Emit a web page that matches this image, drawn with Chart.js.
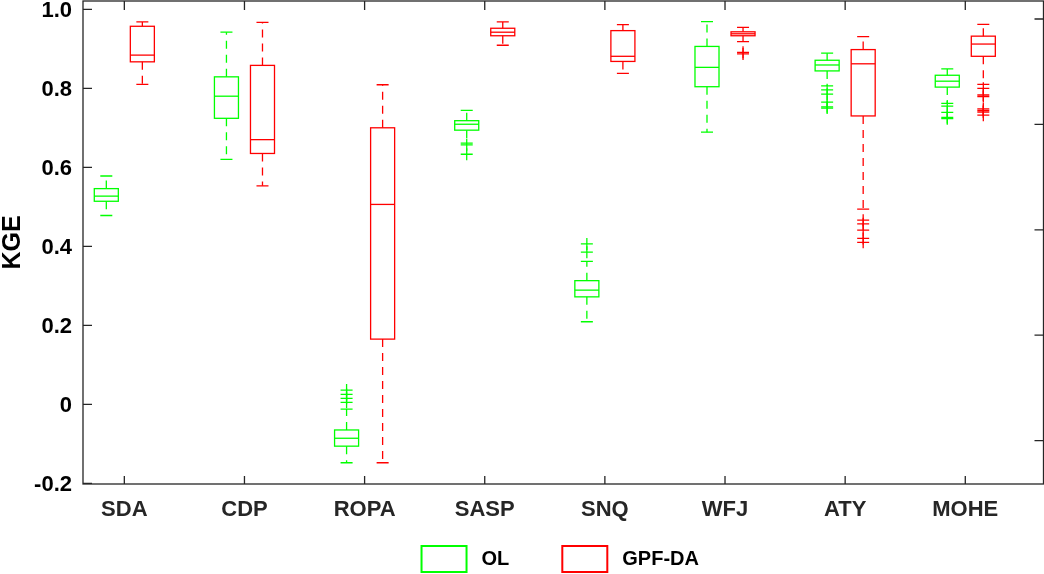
<!DOCTYPE html>
<html><head><meta charset="utf-8">
<script src="https://cdn.jsdelivr.net/npm/chart.js@4.4.1/dist/chart.umd.min.js"></script>
<style>html,body{margin:0;padding:0;background:#fff;}#wrap{width:1044px;height:574px;position:relative;}</style>
</head><body><div id="wrap"><canvas id="c" width="1044" height="574"></canvas></div>
<script>
// ---- data ----
const categories = ['SDA','CDP','ROPA','SASP','SNQ','WFJ','ATY','MOHE'];
const seriesNames = ['OL','GPF-DA'];
const yTickValues = [-0.2, 0, 0.2, 0.4, 0.6, 0.8, 1.0];
const yTickLabels = ['-0.2','0','0.2','0.4','0.6','0.8','1.0'];
const rightTickValues = [0, 1, 2, 3, 4];

// OL box statistics
const olWhiskerLow  = [0.478, 0.620, -0.148, 0.661, 0.209, 0.689, 0.806, 0.762];
const olQ1          = [0.514, 0.724, -0.106, 0.694, 0.272, 0.804, 0.844, 0.803];
const olMedian      = [0.527, 0.780, -0.086, 0.709, 0.289, 0.853, 0.859, 0.818];
const olQ3          = [0.546, 0.829, -0.065, 0.718, 0.313, 0.906, 0.871, 0.833];
const olWhiskerHigh = [0.578, 0.942, -0.012, 0.744, 0.362, 0.969, 0.889, 0.849];
const olOutliers    = [[], [], [0.005, 0.015, 0.025, 0.036], [0.657, 0.633], [0.385, 0.406], [],
                       [0.796, 0.785, 0.765, 0.753, 0.750], [0.755, 0.739, 0.726, 0.723]];

// GPF-DA box statistics
const daWhiskerLow  = [0.810, 0.553, -0.148, 0.909, 0.838, 0.918, 0.494, 0.810];
const daQ1          = [0.867, 0.635, 0.165, 0.933, 0.868, 0.933, 0.730, 0.881];
const daMedian      = [0.884, 0.670, 0.506, 0.942, 0.881, 0.938, 0.862, 0.912];
const daQ3          = [0.957, 0.858, 0.700, 0.952, 0.946, 0.943, 0.898, 0.932];
const daWhiskerHigh = [0.968, 0.967, 0.809, 0.968, 0.961, 0.954, 0.931, 0.962];
const daOutliers    = [[], [], [], [], [], [0.891, 0.887],
                       [0.466, 0.457, 0.441, 0.420, 0.410], [0.800, 0.783, 0.779, 0.748, 0.744, 0.740, 0.732]];

// ---- styling ----
const GREEN = '#00ff00', RED = '#ff0000', AXIS = '#262626';
const FONT = "'Liberation Sans', Arial, Helvetica, sans-serif";
const groupOffset = [-0.15, 0.15];
const boxHalf = 0.1, capHalf = 0.05;

const stats = [
  {lo: olWhiskerLow, q1: olQ1, med: olMedian, q3: olQ3, hi: olWhiskerHigh, color: GREEN},
  {lo: daWhiskerLow, q1: daQ1, med: daMedian, q3: daQ3, hi: daWhiskerHigh, color: RED}
];

function outlierPoints(list, s) {
  const pts = [];
  list.forEach((arr, i) => arr.forEach(v => pts.push({x: i + 1 + groupOffset[s], y: v})));
  return pts;
}

function noPad(s) { s.paddingTop = 0; s.paddingBottom = 0; s.paddingLeft = 0; s.paddingRight = 0; }

const boxPlugin = {
  id: 'boxes',
  beforeDatasetsDraw(chart) {
    const ctx = chart.ctx, xs = chart.scales.x, ys = chart.scales.y;
    ctx.save();
    ctx.lineWidth = 1.3;
    stats.forEach((st, s) => {
      ctx.strokeStyle = st.color;
      categories.forEach((c, i) => {
        const xc = i + 1 + groupOffset[s];
        const xl = xs.getPixelForValue(xc - boxHalf), xr = xs.getPixelForValue(xc + boxHalf);
        const xm = xs.getPixelForValue(xc);
        const cl = xs.getPixelForValue(xc - capHalf), cr = xs.getPixelForValue(xc + capHalf);
        const pLo = ys.getPixelForValue(st.lo[i]), pQ1 = ys.getPixelForValue(st.q1[i]);
        const pMed = ys.getPixelForValue(st.med[i]), pQ3 = ys.getPixelForValue(st.q3[i]);
        const pHi = ys.getPixelForValue(st.hi[i]);
        ctx.setLineDash([8, 6]);
        ctx.beginPath();
        ctx.moveTo(xm, pQ3); ctx.lineTo(xm, pHi);
        ctx.moveTo(xm, pQ1); ctx.lineTo(xm, pLo);
        ctx.stroke();
        ctx.setLineDash([]);
        ctx.beginPath();
        ctx.moveTo(cl, pHi); ctx.lineTo(cr, pHi);
        ctx.moveTo(cl, pLo); ctx.lineTo(cr, pLo);
        ctx.stroke();
        ctx.strokeRect(xl, pQ3, xr - xl, pQ1 - pQ3);
        ctx.beginPath();
        ctx.moveTo(xl, pMed); ctx.lineTo(xr, pMed);
        ctx.stroke();
      });
    });
    ctx.restore();
  }
};

const framePlugin = {
  id: 'frame',
  afterDraw(chart) {
    const ctx = chart.ctx, a = chart.chartArea, xs = chart.scales.x, ys = chart.scales.y, y2 = chart.scales.y2;
    ctx.save();
    ctx.strokeStyle = AXIS;
    ctx.lineWidth = 1.3;
    ctx.strokeRect(a.left, a.top, a.right - a.left, a.bottom - a.top);
    ctx.beginPath();
    ys.ticks.forEach(t => { const p = ys.getPixelForValue(t.value); ctx.moveTo(a.left, p); ctx.lineTo(a.left + 9, p); });
    xs.ticks.forEach(t => {
      const p = xs.getPixelForValue(t.value);
      ctx.moveTo(p, a.bottom); ctx.lineTo(p, a.bottom - 8);
      ctx.moveTo(p, a.top); ctx.lineTo(p, a.top + 9);
    });
    y2.ticks.forEach(t => { const p = y2.getPixelForValue(t.value); ctx.moveTo(a.right, p); ctx.lineTo(a.right - 9, p); });
    ctx.stroke();
    // legend
    ctx.font = 'bold 20px ' + FONT;
    ctx.textBaseline = 'middle';
    ctx.fillStyle = '#000';
    const boxW = 45, boxH = 26, gapText = 15, gapItem = 53;
    const widths = chart.data.datasets.map(d => ctx.measureText(d.label).width);
    let total = 0;
    widths.forEach((w, k) => { total += boxW + gapText + w + (k < widths.length - 1 ? gapItem : 0); });
    let x = (a.left + a.right) / 2 - total / 2 - 3;
    const yTop = 546;
    ctx.lineWidth = 2;
    chart.data.datasets.forEach((d, k) => {
      ctx.strokeStyle = d.borderColor;
      ctx.strokeRect(x, yTop, boxW, boxH);
      ctx.fillText(d.label, x + boxW + gapText, yTop + boxH / 2);
      x += boxW + gapText + widths[k] + gapItem;
    });
    ctx.restore();
  }
};

new Chart(document.getElementById('c'), {
  type: 'scatter',
  data: {
    datasets: [
      {label: seriesNames[0], data: outlierPoints(olOutliers, 0), borderColor: GREEN, backgroundColor: GREEN,
       pointStyle: 'cross', pointRadius: 6, pointBorderWidth: 1.3, pointHoverRadius: 6},
      {label: seriesNames[1], data: outlierPoints(daOutliers, 1), borderColor: RED, backgroundColor: RED,
       pointStyle: 'cross', pointRadius: 6, pointBorderWidth: 1.3, pointHoverRadius: 6}
    ]
  },
  options: {
    responsive: false,
    animation: false,
    layout: {autoPadding: false, padding: {left: 0, right: 0.5, top: 1, bottom: 0}},
    plugins: {legend: {display: false}, tooltip: {enabled: false}},
    scales: {
      x: {
        type: 'linear', min: 0.656, max: 8.651,
        afterBuildTicks: s => { s.ticks = categories.map((c, i) => ({value: i + 1})); },
        ticks: {callback: (v, i) => categories[i], font: {family: FONT, weight: 'bold', size: 22}, color: AXIS,
                padding: 13, autoSkip: false, maxRotation: 0},
        grid: {display: false, drawTicks: false},
        border: {display: false},
        afterFit: s => { s.height = 90; noPad(s); }
      },
      y: {
        type: 'linear', min: -0.2018, max: 1.021,
        afterBuildTicks: s => { s.ticks = yTickValues.map(v => ({value: v})); },
        ticks: {callback: (v, i) => yTickLabels[i], font: {family: FONT, weight: 'bold', size: 22}, color: '#000',
                padding: 11, labelOffset: 2},
        grid: {display: false, drawTicks: false},
        border: {display: false},
        title: {display: true, text: 'KGE', font: {family: FONT, weight: 'bold', size: 25}, color: '#000',
                padding: {top: -2, bottom: 0}},
        afterFit: s => { s.width = 83; noPad(s); }
      },
      y2: {
        type: 'linear', position: 'right', min: -0.412, max: 4.171,
        afterBuildTicks: s => { s.ticks = rightTickValues.map(v => ({value: v})); },
        ticks: {display: false},
        grid: {display: false, drawTicks: false},
        border: {display: false},
        afterFit: s => { s.width = 0; noPad(s); }
      }
    }
  },
  plugins: [boxPlugin, framePlugin]
});
</script>
</body></html>
